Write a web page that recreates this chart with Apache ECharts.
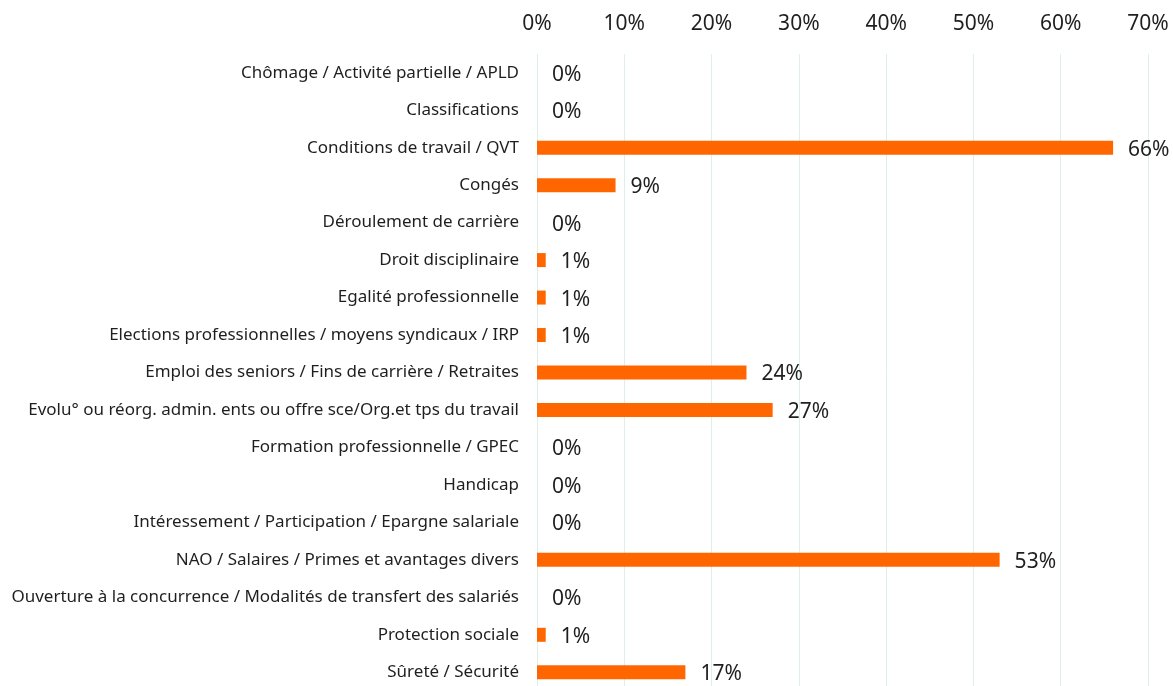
<!DOCTYPE html>
<html>
<head>
<meta charset="utf-8">
<script src="https://cdn.jsdelivr.net/npm/echarts@6/dist/echarts.min.js"></script>
<style>
  html, body { margin: 0; padding: 0; background: #fff; }
  #chart { width: 1173px; height: 686px; }
</style>
</head>
<body>
<div id="chart"></div>
<script>
// Thèmes abordés (part des accords, en %)
const categories = [
  "Chômage / Activité partielle / APLD",
  "Classifications",
  "Conditions de travail / QVT",
  "Congés",
  "Déroulement de carrière",
  "Droit disciplinaire",
  "Egalité professionnelle",
  "Elections professionnelles / moyens syndicaux / IRP",
  "Emploi des seniors / Fins de carrière / Retraites",
  "Evolu° ou réorg. admin. ents ou offre sce/Org.et tps du travail",
  "Formation professionnelle / GPEC",
  "Handicap",
  "Intéressement / Participation / Epargne salariale",
  "NAO / Salaires / Primes et avantages divers",
  "Ouverture à la concurrence / Modalités de transfert des salariés",
  "Protection sociale",
  "Sûreté / Sécurité"
];
const values = [0, 0, 66, 9, 0, 1, 1, 1, 24, 27, 0, 0, 0, 53, 0, 1, 17];
const xTicks = [0, 10, 20, 30, 40, 50, 60, 70];

const FONT = "Noto Sans";
const chart = echarts.init(document.getElementById('chart'));
chart.setOption({
  animation: false,
  grid: {
    left: 537, right: 25, top: 54, height: 637,
    containLabel: false,
    outerBoundsMode: 'none'
  },
  xAxis: {
    type: 'value',
    position: 'top',
    min: xTicks[0],
    max: xTicks[xTicks.length - 1],
    interval: 10,
    axisLine: { show: false },
    axisTick: { show: false },
    axisLabel: {
      formatter: v => v + '%',
      fontFamily: FONT, fontSize: 21, color: '#1f1f1f', margin: 19
    },
    splitLine: { show: true, lineStyle: { color: '#DDEEEB', width: 1 } }
  },
  yAxis: {
    type: 'category',
    data: categories,
    inverse: true,
    axisLine: { show: false },
    axisTick: { show: false },
    axisLabel: { fontFamily: FONT, fontSize: 17, color: '#1f1f1f', margin: 18, padding: [2, 0, 0, 0] }
  },
  series: [{
    type: 'bar',
    data: values,
    barWidth: 14,
    itemStyle: { color: '#FF6600' },
    label: {
      show: true,
      position: 'right',
      distance: 15,
      offset: [0, 2],
      formatter: p => p.value + '%',
      fontFamily: FONT, fontSize: 21, color: '#1f1f1f'
    }
  }]
});
</script>
</body>
</html>
